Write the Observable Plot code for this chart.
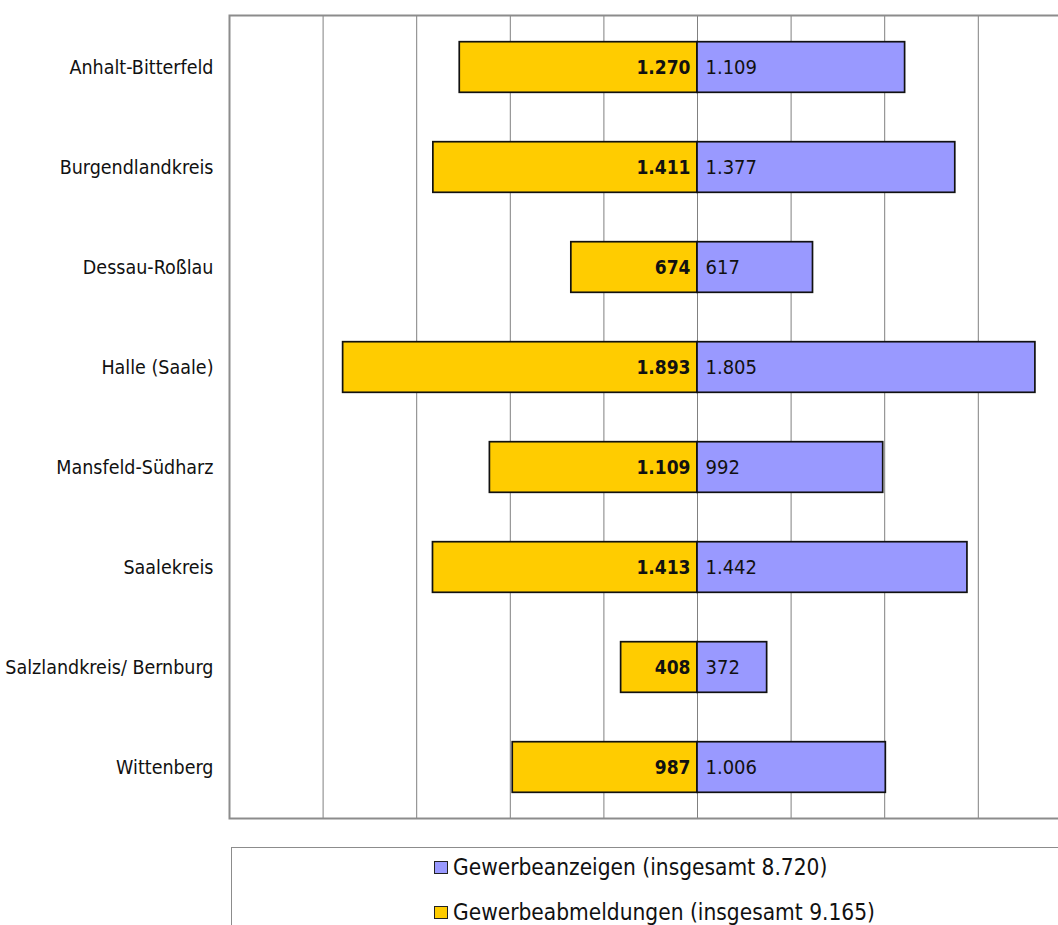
<!DOCTYPE html>
<html><head><meta charset="utf-8">
<script src="https://cdn.jsdelivr.net/npm/d3@7"></script>
<script src="https://cdn.jsdelivr.net/npm/@observablehq/plot@0.6"></script>
<style>
html,body{margin:0;padding:0;overflow:hidden;background:#fff;width:1058px;height:925px}
#chart{position:absolute;left:0;top:0;width:1175px}
#chart svg{max-width:none !important}
#legend{position:absolute;left:231px;top:847px;width:1000px;height:140px;border:1.5px solid #8c8c8c;font-family:"DejaVu Sans Condensed","DejaVu Sans",sans-serif;font-size:22.5px;color:#111}
.item{position:absolute;left:202px;display:flex;align-items:center;height:26px;line-height:26px;white-space:nowrap}
.sw{width:12px;height:11px;border:1.5px solid #222;margin-right:5px}
</style></head><body>
<div id="chart"></div>
<div id="legend"></div>
<script>
const regions = ["Anhalt-Bitterfeld","Burgendlandkreis","Dessau-Roßlau","Halle (Saale)","Mansfeld-Südharz","Saalekreis","Salzlandkreis/ Bernburg","Wittenberg"];
const abmeldungen = [1270,1411,674,1893,1109,1413,408,987];
const anzeigen = [1109,1377,617,1805,992,1442,372,1006];
const gridTicks = [-2000,-1500,-1000,-500,0,500,1000,1500,2000];
const xDomain = [-2500, 2500];
const legendLabels = ["Gewerbeanzeigen (insgesamt 8.720)","Gewerbeabmeldungen (insgesamt 9.165)"];
const colAnz = "#9999FF";
const colAbm = "#FFCC00";

const de = d3.formatLocale({decimal:",",thousands:".",grouping:[3],currency:["","€"]});
const fmt = de.format(",d");

const rows = regions.map((r,i)=>({region:r, abm:abmeldungen[i], anz:anzeigen[i]}));

const font = '"DejaVu Sans Condensed","DejaVu Sans",sans-serif';
const chart = Plot.plot({
  width: 1175,
  height: 830,
  marginLeft: 229,
  marginRight: 10,
  marginTop: 15,
  marginBottom: 12,
  style: {fontFamily: font, fontSize: "19.5px", color: "#111", background: "white", maxWidth: "none", overflow: "visible"},
  x: {domain: xDomain, axis: null},
  y: {domain: regions, padding: 0, label: null},
  marks: [
    Plot.ruleX(gridTicks, {stroke: "#808080", strokeWidth: 1}),
    Plot.frame({stroke: "#8c8c8c", strokeWidth: 2}),
    Plot.barX(rows, {y: "region", x1: d => -d.abm, x2: 0, fill: colAbm, stroke: "#111", strokeWidth: 1.7, insetTop: 24.7, insetBottom: 24.7}),
    Plot.barX(rows, {y: "region", x1: 0, x2: "anz", fill: colAnz, stroke: "#111", strokeWidth: 1.7, insetTop: 24.7, insetBottom: 24.7}),
    Plot.text(rows, {y: "region", x: 0, text: d => fmt(d.abm), textAnchor: "end", dx: -7, fontWeight: "bold", fontSize: 19, fill: "#111"}),
    Plot.text(rows, {y: "region", x: 0, text: d => fmt(d.anz), textAnchor: "start", dx: 8, fontSize: 20, fill: "#111"}),
    Plot.axisY({tickSize: 0, tickPadding: 16, fontSize: 19.5, label: null})
  ]
});
document.getElementById("chart").appendChild(chart);

const legend = document.getElementById("legend");
[[legendLabels[0], colAnz, 6], [legendLabels[1], colAbm, 51]].forEach(([t, c, top]) => {
  const it = document.createElement("div");
  it.className = "item";
  it.style.top = top + "px";
  const sw = document.createElement("span");
  sw.className = "sw";
  sw.style.background = c;
  const tx = document.createElement("span");
  tx.textContent = t;
  it.appendChild(sw); it.appendChild(tx);
  legend.appendChild(it);
});
</script>
</body></html>
